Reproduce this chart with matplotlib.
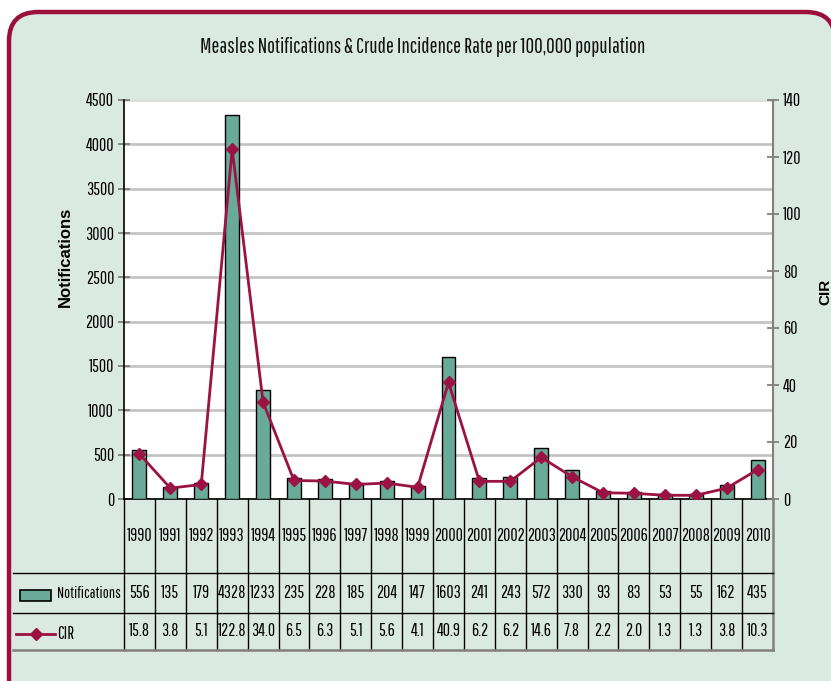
import matplotlib
matplotlib.use("Agg")
import matplotlib.pyplot as plt
from matplotlib.patches import FancyBboxPatch, Rectangle
from matplotlib.lines import Line2D
import matplotlib.transforms as mtransforms

years = [str(y) for y in range(1990, 2011)]
notifications = [556, 135, 179, 4328, 1233, 235, 228, 185, 204, 147, 1603,
                 241, 243, 572, 330, 93, 83, 53, 55, 162, 435]
cir = [15.8, 3.8, 5.1, 122.8, 34.0, 6.5, 6.3, 5.1, 5.6, 4.1, 40.9,
       6.2, 6.2, 14.6, 7.8, 2.2, 2.0, 1.3, 1.3, 3.8, 10.3]
cir_labels = ["15.8", "3.8", "5.1", "122.8", "34.0", "6.5", "6.3", "5.1", "5.6", "4.1", "40.9",
              "6.2", "6.2", "14.6", "7.8", "2.2", "2.0", "1.3", "1.3", "3.8", "10.3"]
left_ticks = list(range(0, 4501, 500))
right_ticks = list(range(0, 141, 20))
title = "Measles Notifications & Crude Incidence Rate per 100,000 population"

plt.rcParams['font.family'] = ['Pathway Gothic One', 'DejaVu Sans']

BG = "#dbe9e3"
BORDER = "#9b0f3b"
BAR = "#6aaa98"
LINE = "#9b1343"
FS = 12.8

W, H = 831, 681
fig = plt.figure(figsize=(W / 100, H / 100), dpi=100)
fig.patch.set_facecolor("white")

panel = FancyBboxPatch((9 / W, -0.1), (835 - 9) / W, (H - 12) / H + 0.1,
                       boxstyle="round,pad=0,rounding_size=0.035",
                       transform=fig.transFigure, facecolor=BG, edgecolor=BORDER,
                       linewidth=3.2, zorder=-10, mutation_aspect=W / H)
fig.patches.append(panel)

ax_l, ax_r, ax_t, ax_b = 124, 773, 100, 499
ax = fig.add_axes([ax_l / W, 1 - ax_b / H, (ax_r - ax_l) / W, (ax_b - ax_t) / H])
ax.set_facecolor("white")
x = list(range(len(years)))
ax.bar(x, notifications, width=0.45, color=BAR, edgecolor="black", linewidth=1.0, zorder=3)
ax.set_xlim(-0.5, len(years) - 0.5)
ax.set_ylim(0, 4500)
ax.set_yticks(left_ticks)
ax.set_yticklabels([str(t) for t in left_ticks])
ax.set_xticks([])
ax.grid(axis="y", color="#c4c4c4", linewidth=2.0, zorder=0)
ax.get_ygridlines()[-1].set_color("#dcdcdc")
ax.set_axisbelow(True)
ax.tick_params(axis="y", direction="inout", length=8, width=1.2, color="#777777",
               labelsize=FS, pad=3)
for s in ["top", "right"]:
    ax.spines[s].set_visible(False)
ax.spines["left"].set_color("black")
ax.spines["bottom"].set_color("black")
ax.spines["left"].set_linewidth(1.2)
ax.spines["bottom"].set_linewidth(1.2)

ax2 = ax.twinx()
ax2.plot(x, cir, color=LINE, linewidth=2.0, marker="D", markersize=6.5, zorder=5)
ax2.set_ylim(0, 140)
ax2.set_yticks(right_ticks)
ax2.set_yticklabels([str(t) for t in right_ticks])
ax2.tick_params(axis="y", direction="inout", length=8, width=1.2, color="#777777",
                labelsize=FS, pad=3)
for s in ["top", "left", "bottom"]:
    ax2.spines[s].set_visible(False)
ax2.spines["right"].set_color("#808080")
ax2.spines["right"].set_linewidth(1.5)

fig.text(423 / W, 1 - 47 / H, title, ha="center", va="center", fontsize=15.2, color="#111111")
fig.text(65 / W, 1 - 257 / H, "Notifications", rotation=90, ha="center", va="center",
         fontsize=12, fontweight="bold", family=["Liberation Sans", "DejaVu Sans"])
fig.text(825 / W, 1 - 292 / H, "CIR", rotation=90, ha="center", va="center",
         fontsize=11, fontweight="bold", family=["Liberation Sans", "DejaVu Sans"])

# data table below the axes
trans = mtransforms.blended_transform_factory(ax.transData, ax.transAxes)
h = ax_b - ax_t
def fy(ypix):
    return -(ypix - ax_b) / h
y_years, y_notif, y_cir = fy(573), fy(613), fy(650)
x_left = -0.5 - (ax_l - 13) / ((ax_r - ax_l) / len(years))
n = len(years)
for i in range(n + 1):
    xv = i - 0.5
    col = "#808080" if i == n else "black"
    lw = 1.8 if i == n else 1.0
    ax.add_line(Line2D([xv, xv], [0, y_cir], transform=trans, color=col, linewidth=lw, clip_on=False))
for yv in [y_years, y_notif, y_cir]:
    col = "#808080" if yv == y_cir else "black"
    lw = 1.8 if yv == y_cir else 1.0
    ax.add_line(Line2D([x_left, n - 0.5], [yv, yv], transform=trans, color=col, linewidth=lw, clip_on=False))
for i in range(n):
    ax.text(i, (0 + y_years) / 2, years[i], transform=trans, ha="center", va="center", fontsize=FS)
    ax.text(i, (y_years + y_notif) / 2, str(notifications[i]), transform=trans, ha="center", va="center", fontsize=FS)
    ax.text(i, (y_notif + y_cir) / 2, cir_labels[i], transform=trans, ha="center", va="center", fontsize=FS)

# legend keys in header column
fig.patches.append(Rectangle((20 / W, 1 - 601 / H), 31 / W, 11 / H, transform=fig.transFigure,
                             facecolor=BAR, edgecolor="black", linewidth=1.2, zorder=5))
fig.text(57 / W, 1 - 594 / H, "Notifications", ha="left", va="center", fontsize=11.5)
fig.lines.append(Line2D([16 / W, 55 / W], [1 - 634 / H, 1 - 634 / H], transform=fig.transFigure,
                        color=LINE, linewidth=2.0))
fig.lines.append(Line2D([36 / W], [1 - 634 / H], transform=fig.transFigure,
                        color=LINE, marker="D", markersize=6.5, linestyle="none"))
fig.text(57 / W, 1 - 634 / H, "CIR", ha="left", va="center", fontsize=FS)

fig.savefig("out.png", dpi=100, facecolor=fig.get_facecolor())
